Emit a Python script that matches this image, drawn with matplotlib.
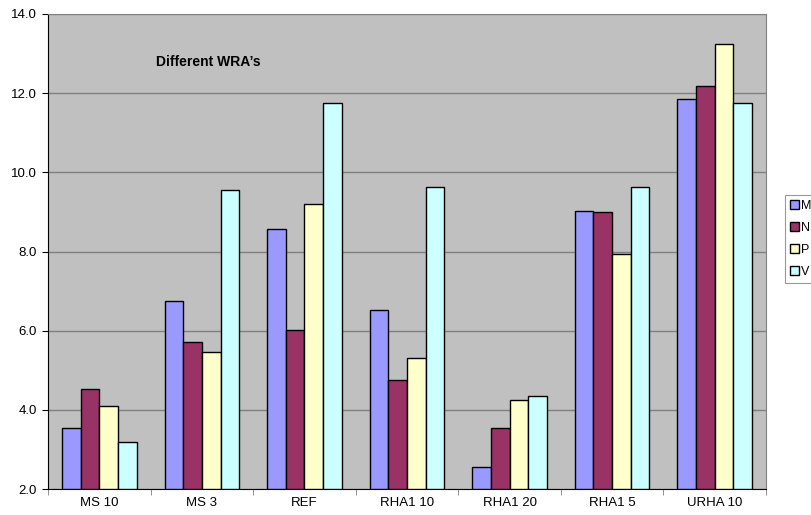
import numpy as np
import matplotlib.pyplot as plt

plt.rcParams['font.family'] = ['Liberation Sans', 'DejaVu Sans']

# data
categories = ['MS 10', 'MS 3', 'REF', 'RHA1 10', 'RHA1 20', 'RHA1 5', 'URHA 10']
series_names = ['M', 'N', 'P', 'V']
m_vals = [3.53, 6.75, 8.57, 6.53, 2.56, 9.03, 11.85]
n_vals = [4.52, 5.72, 6.02, 4.75, 3.53, 9.00, 12.18]
p_vals = [4.10, 5.46, 9.19, 5.30, 4.25, 7.94, 13.25]
v_vals = [3.19, 9.56, 11.74, 9.64, 4.34, 9.62, 11.74]
colors = ['#9999FF', '#993366', '#FFFFCC', '#CCFFFF']

fig = plt.figure(figsize=(8.11, 5.15), dpi=100)
ax = fig.add_axes([48 / 811, 26 / 515, 718 / 811, 475 / 515])
ax.set_facecolor('#C0C0C0')

x = np.arange(len(categories))
w = 0.182
for i, (vals, c, name) in enumerate(zip([m_vals, n_vals, p_vals, v_vals], colors, series_names)):
    ax.bar(x + (i - 1.5) * w, np.array(vals) - 2.0, w, bottom=2.0, color=c,
           edgecolor='black', linewidth=1.0, label=name, zorder=3)

ax.set_xlim(-0.5, len(categories) - 0.5)
ax.set_ylim(2.0, 14.0)
ax.set_yticks(np.arange(2, 14.1, 2))
ax.set_yticklabels(['%.1f' % v for v in np.arange(2, 14.1, 2)], fontsize=9.5)
ax.yaxis.grid(True, color='#808080', linewidth=1.0, zorder=0)
ax.set_axisbelow(True)

# category labels centred, tick marks at boundaries
ax.set_xticks(x)
ax.set_xticklabels(categories, fontsize=9.5)
ax.tick_params(axis='x', length=0, pad=6)
ax.set_xticks(np.arange(-0.5, len(categories)), minor=True)
ax.tick_params(axis='x', which='minor', length=4, color='#808080')
ax.tick_params(axis='y', length=4, color='black', pad=4)

for side in ['top', 'right']:
    ax.spines[side].set_color('#808080')
ax.spines['bottom'].set_color('black')
ax.spines['left'].set_color('black')

ax.text(0.15, 0.89, 'Different WRA\u2019s', transform=ax.transAxes,
        fontsize=10, fontweight='bold')

leg = fig.legend(loc='upper left', bbox_to_anchor=(785 / 811, 1 - 195 / 515),
                 fontsize=9, frameon=True, fancybox=False, edgecolor='#808080',
                 handlelength=0.7, handleheight=0.7, handletextpad=0.15,
                 labelspacing=0.8, borderpad=0.4, borderaxespad=0)
leg.get_frame().set_linewidth(0.8)

fig.savefig('out.png', dpi=100, facecolor='white')
